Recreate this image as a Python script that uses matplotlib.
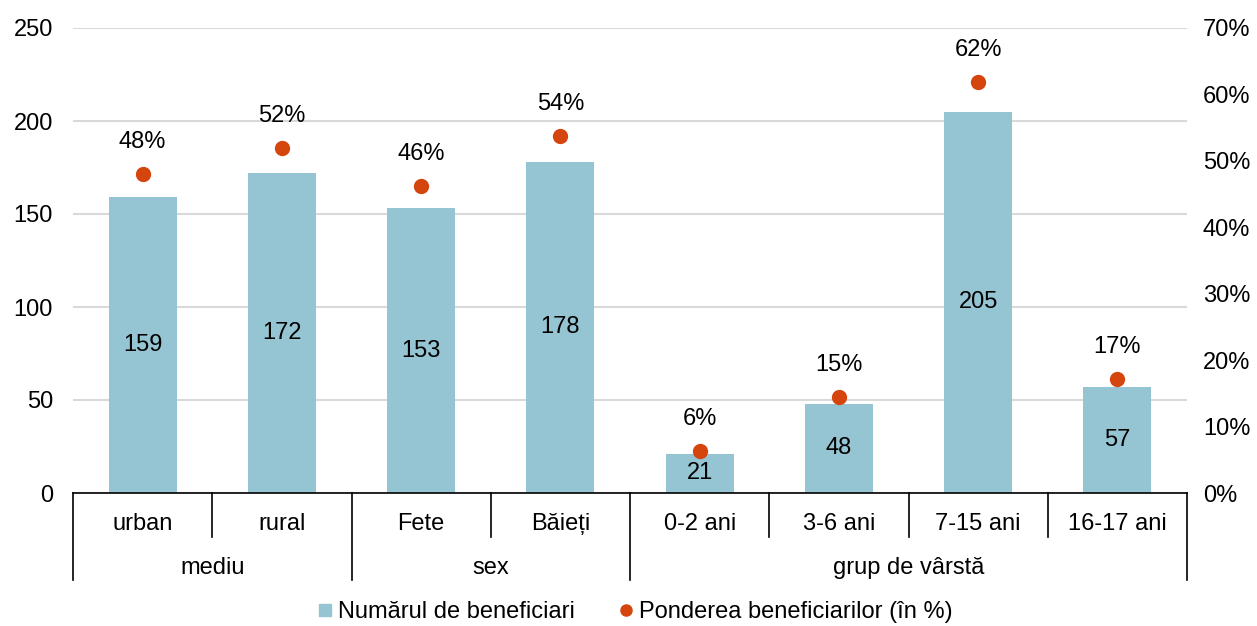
import matplotlib
matplotlib.use("Agg")
import matplotlib.pyplot as plt
from matplotlib.lines import Line2D
from matplotlib.ticker import FuncFormatter

plt.rcParams['font.family'] = ['Liberation Sans', 'DejaVu Sans']

categories = ["urban", "rural", "Fete", "Băieți", "0-2 ani", "3-6 ani", "7-15 ani", "16-17 ani"]
groups = ["mediu", "sex", "grup de vârstă"]
group_sizes = [2, 2, 4]
beneficiari = [159, 172, 153, 178, 21, 48, 205, 57]
pondere = [48.0, 51.9, 46.2, 53.8, 6.3, 14.5, 61.9, 17.2]
pondere_labels = ["48%", "52%", "46%", "54%", "6%", "15%", "62%", "17%"]

bar_color = "#95C4D2"
dot_color = "#D5450E"
fs = 17

fig = plt.figure(figsize=(12.57, 6.26), dpi=100)
ax = fig.add_axes([73/1257, 1-493/626, (1187-73)/1257, (493-28)/626])
x = list(range(len(categories)))

ax.bar(x, beneficiari, width=0.49, color=bar_color, zorder=2)
for xi, v in zip(x, beneficiari):
    ax.text(xi, v/2, str(v), ha='center', va='center', fontsize=fs, color='black', zorder=3)

ax.set_xlim(-0.5, len(categories)-0.5)
ax.set_ylim(0, 250)
ax.set_yticks([0, 50, 100, 150, 200, 250])
ax.yaxis.grid(True, color='#D9D9D9', linewidth=1.5, zorder=0)
ax.set_axisbelow(True)
for s in ['top', 'right', 'left']:
    ax.spines[s].set_visible(False)
ax.spines['bottom'].set_color('black')
ax.spines['bottom'].set_linewidth(1.2)
ax.tick_params(axis='y', length=0, pad=14.5, labelsize=fs)
ax.set_xticks([])

ax2 = ax.twinx()
ax2.set_ylim(0, 70)
ax2.set_yticks(range(0, 71, 10))
ax2.yaxis.set_major_formatter(FuncFormatter(lambda v, p: f"{int(v)}%"))
ax2.tick_params(axis='y', length=0, pad=11.5, labelsize=fs)
for s in ['top', 'right', 'left', 'bottom']:
    ax2.spines[s].set_visible(False)
ax2.plot(x, pondere, linestyle='none', marker='o', ms=10, color=dot_color, zorder=4)
for xi, v, lab in zip(x, pondere, pondere_labels):
    ax2.annotate(lab, (xi, v), xytext=(0, 23), textcoords='offset points',
                 ha='center', va='center', fontsize=fs)

# hierarchical category axis
tr = ax.get_xaxis_transform()
y_short = -44/465
y_long = -87/465
bounds = [0]
for g in group_sizes:
    bounds.append(bounds[-1] + g)
group_edges = set(b - 0.5 for b in bounds)
for i in range(len(categories) + 1):
    xe = i - 0.5
    yb = y_long if xe in group_edges else y_short
    ax.plot([xe, xe], [0, yb], color='black', lw=1.2, transform=tr, clip_on=False)
for xi, c in zip(x, categories):
    ax.text(xi, -31/465, c, ha='center', va='center', fontsize=fs, transform=tr)
for gi, g in enumerate(groups):
    center = (bounds[gi] + bounds[gi+1] - 1) / 2
    ax.text(center, -75/465, g, ha='center', va='center', fontsize=fs, transform=tr)

handles = [
    Line2D([], [], linestyle='none', marker='s', ms=8, color=bar_color),
    Line2D([], [], linestyle='none', marker='o', ms=8, color=dot_color),
]
fig.legend(handles, ["Numărul de beneficiari", "Ponderea beneficiarilor (în %)"],
           loc='center', bbox_to_anchor=(0.506, 1-612/626), ncol=2, frameon=False,
           fontsize=fs, handlelength=0.5, handletextpad=0.3, columnspacing=1.9)

fig.savefig("out.png", dpi=100)
